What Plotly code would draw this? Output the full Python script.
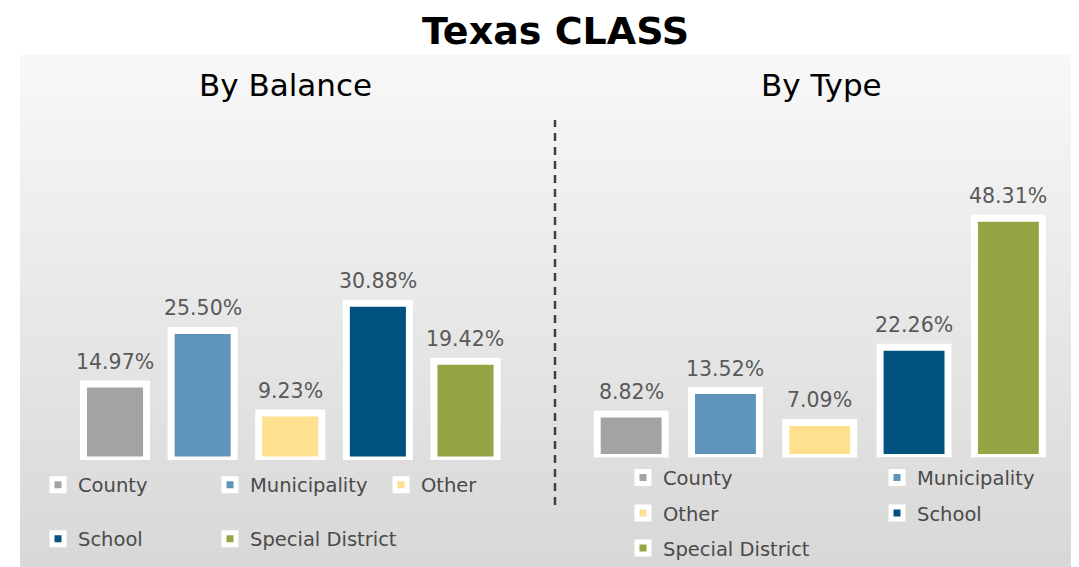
import plotly.graph_objects as go

# ---- data ----
categories = ["County", "Municipality", "Other", "School", "Special District"]
by_balance = [14.97, 25.50, 9.23, 30.88, 19.42]
by_type = [8.82, 13.52, 7.09, 22.26, 48.31]
colors = ["#a3a3a5", "#5f95ba", "#ffe08f", "#01527e", "#93a545"]

title_text = "Texas CLASS"
subtitle_left = "By Balance"
subtitle_right = "By Type"

W, H = 1079, 567
OFF = 8  # page body margin
FONT = "DejaVu Sans"
LABEL_COLOR = "#595959"


def py(p):
    """page pixel y (from top) -> paper y"""
    return 1 - (p - OFF) / H


def px(p):
    return (p - OFF) / W


fig = go.Figure()

# legend slot positions (page pixels: symbol-centre x, row-centre y)
left_slots = [(55, 485), (227, 485), (398, 485), (55, 539), (227, 539)]
right_slots = [(640, 477.7), (894, 477.7), (640, 513.3), (894, 513.3), (640, 548.3)]

leg_font = dict(family=FONT, size=19.5, color="#4a4a4a")
legends = {}
SYM_OFF = 17  # symbol centre offset from legend's left edge


def legend_at(xpix, ypix):
    return dict(x=px(xpix - SYM_OFF), y=py(ypix), xanchor="left", yanchor="middle",
                orientation="h", bgcolor="rgba(0,0,0,0)", borderwidth=0, font=leg_font,
                itemclick=False, itemdoubleclick=False)


for i, cat in enumerate(categories):
    lid = "legend" if i == 0 else f"legend{i + 1}"
    legends[lid] = legend_at(*left_slots[i])
    fig.add_trace(go.Bar(
        x=[cat], y=[by_balance[i]], name=cat, xaxis="x", yaxis="y",
        marker=dict(color=colors[i], line=dict(color="white", width=7)),
        legend=lid, hoverinfo="skip",
    ))
for i, cat in enumerate(categories):
    lid = f"legend{i + 6}"
    legends[lid] = legend_at(*right_slots[i])
    fig.add_trace(go.Bar(
        x=[cat], y=[by_type[i]], name=cat, xaxis="x2", yaxis="y2",
        marker=dict(color=colors[i], line=dict(color="white", width=7)),
        legend=lid, hoverinfo="skip",
    ))

# value labels
ann = []
for i, cat in enumerate(categories):
    ann.append(dict(x=cat, y=by_balance[i], xref="x", yref="y", text=f"{by_balance[i]:.2f}%",
                    showarrow=False, yanchor="middle", yshift=22,
                    font=dict(family=FONT, size=20.5, color=LABEL_COLOR)))
    ann.append(dict(x=cat, y=by_type[i], xref="x2", yref="y2", text=f"{by_type[i]:.2f}%",
                    showarrow=False, yanchor="middle", yshift=22,
                    font=dict(family=FONT, size=20.5, color=LABEL_COLOR)))

ann.append(dict(x=px(555), y=py(31), xref="paper", yref="paper", text=f"<b>{title_text}</b>",
                showarrow=False, xanchor="center", yanchor="middle",
                font=dict(family=FONT, size=38, color="#000000")))
ann.append(dict(x=px(285), y=py(85), xref="paper", yref="paper", text=subtitle_left,
                showarrow=False, xanchor="center", yanchor="middle",
                font=dict(family=FONT, size=31, color="#000000")))
ann.append(dict(x=px(821), y=py(85), xref="paper", yref="paper", text=subtitle_right,
                showarrow=False, xanchor="center", yanchor="middle",
                font=dict(family=FONT, size=31, color="#000000")))

# background gradient panel
shapes = []
n_bands = 90
top, bottom = 55, 575
c0, c1 = 248, 215
for b in range(n_bands):
    y0 = top + (bottom - top) * b / n_bands
    y1 = top + (bottom - top) * (b + 1) / n_bands + 0.6
    c = round(c0 + (c1 - c0) * (b + 0.5) / n_bands)
    shapes.append(dict(type="rect", xref="paper", yref="paper", x0=px(20), x1=1,
                       y0=py(y1), y1=py(y0), layer="below",
                       line=dict(width=0), fillcolor=f"rgb({c},{c},{c})"))
# divider
shapes.append(dict(type="line", xref="paper", yref="paper", x0=px(555), x1=px(555),
                   y0=py(505), y1=py(120), line=dict(color="#404040", width=2.5, dash="8px,6px")))

# axes geometry (page pixels)
L_zero, L_scale, L_range = 460.0, 5.08, 40
R_zero, R_scale, R_range = 457.6, 4.956, 60

axis_common = dict(showgrid=False, zeroline=False, showticklabels=False, showline=False, ticks="")

fig.update_layout(
    width=W, height=H, margin=dict(l=0, r=0, t=0, b=0, autoexpand=False),
    paper_bgcolor="white", plot_bgcolor="rgba(0,0,0,0)",
    barmode="relative", bargap=0.28,
    xaxis=dict(domain=[px(71.2), px(509.3)], anchor="y", categoryorder="array",
               categoryarray=categories, **axis_common),
    yaxis=dict(domain=[py(L_zero), py(L_zero - L_range * L_scale)], range=[0, L_range],
               anchor="x", **axis_common),
    xaxis2=dict(domain=[px(584), px(1055.5)], anchor="y2", categoryorder="array",
                categoryarray=categories, **axis_common),
    yaxis2=dict(domain=[py(R_zero), py(R_zero - R_range * R_scale)], range=[0, R_range],
                anchor="x2", **axis_common),
    showlegend=True,
    annotations=ann,
    shapes=shapes,
    **legends,
)

fig.write_html("out.html")
